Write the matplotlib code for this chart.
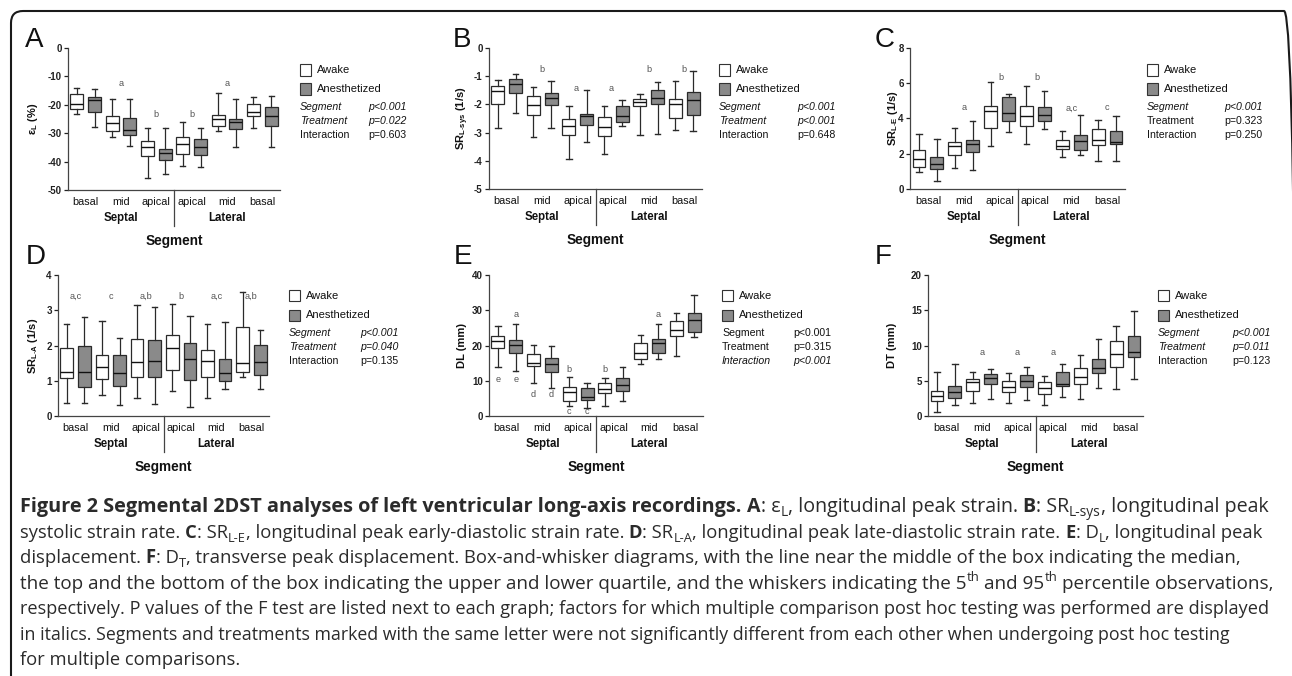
import matplotlib
matplotlib.use("Agg")
import matplotlib.pyplot as plt
from matplotlib.patches import Rectangle, FancyBboxPatch
from matplotlib.transforms import IdentityTransform
from matplotlib.font_manager import FontProperties

# ---------------- data ----------------
groups = ["basal", "mid", "apical", "apical", "mid", "basal"]
regions = ["Septal", "Lateral"]
treatments = ["Awake", "Anesthetized"]
# order: septal basal (Aw, An), septal mid, septal apical, lateral apical, lateral mid, lateral basal

A_lo = [-23.3, -27.9, -31.2, -34.4, -45.9, -44.4, -41.5, -42.0, -29.4, -34.7, -28.0, -34.7]
A_q1 = [-21.4, -22.6, -29.4, -30.6, -38.2, -39.6, -37.3, -37.6, -27.4, -28.5, -23.8, -27.6]
A_med = [-19.8, -18.2, -26.5, -28.8, -34.7, -37.1, -33.8, -34.9, -24.9, -25.9, -22.4, -23.9]
A_q3 = [-16.2, -17.1, -23.8, -24.8, -32.9, -35.5, -31.4, -32.1, -23.6, -25.1, -19.8, -20.8]
A_hi = [-14.1, -14.5, -17.9, -17.9, -28.0, -28.0, -26.1, -28.0, -15.9, -17.9, -17.4, -16.8]

B_lo = [-2.84, -2.30, -3.17, -2.83, -3.94, -3.35, -3.76, -2.75, -3.07, -3.05, -2.92, -2.93]
B_q1 = [-1.99, -1.60, -2.36, -2.01, -3.07, -2.72, -3.11, -2.64, -2.04, -1.97, -2.48, -2.36]
B_med = [-1.51, -1.28, -2.03, -1.77, -2.78, -2.42, -2.80, -2.42, -1.93, -1.77, -1.99, -1.83]
B_q3 = [-1.34, -1.10, -1.71, -1.60, -2.52, -2.33, -2.45, -2.04, -1.80, -1.50, -1.81, -1.57]
B_hi = [-1.12, -0.91, -1.38, -1.18, -2.04, -1.48, -2.04, -1.83, -1.62, -1.22, -1.18, -0.83]

C_lo = [0.95, 0.43, 1.19, 1.06, 2.46, 3.22, 2.57, 3.41, 1.80, 1.95, 1.57, 1.61]
C_q1 = [1.23, 1.13, 1.95, 2.10, 3.46, 3.88, 3.60, 3.88, 2.29, 2.19, 2.51, 2.57]
C_med = [1.70, 1.42, 2.42, 2.55, 4.44, 4.31, 4.16, 4.22, 2.46, 2.70, 2.76, 2.65]
C_q3 = [2.20, 1.81, 2.65, 2.76, 4.69, 5.20, 4.73, 4.63, 2.80, 3.08, 3.40, 3.31]
C_hi = [3.13, 2.84, 3.46, 3.84, 6.05, 5.41, 5.86, 5.54, 3.27, 4.22, 3.89, 4.13]

D_lo = [0.38, 0.36, 0.60, 0.31, 0.50, 0.34, 0.72, 0.25, 0.50, 0.76, 1.12, 0.76]
D_q1 = [1.08, 0.81, 1.05, 0.86, 1.12, 1.12, 1.30, 1.02, 1.12, 0.99, 1.26, 1.16]
D_med = [1.26, 1.26, 1.40, 1.21, 1.54, 1.56, 1.94, 1.61, 1.56, 1.21, 1.49, 1.54]
D_q3 = [1.94, 1.99, 1.73, 1.73, 2.18, 2.16, 2.30, 2.06, 1.87, 1.62, 2.53, 2.01]
D_hi = [2.62, 2.80, 2.70, 2.22, 3.15, 3.08, 3.17, 2.84, 2.60, 2.68, 3.53, 2.44]

E_lo = [14.0, 12.9, 9.5, 8.0, 2.8, 2.4, 2.8, 4.3, 14.7, 16.2, 17.1, 22.5]
E_q1 = [19.2, 17.8, 14.2, 12.6, 4.3, 4.5, 6.4, 7.2, 16.1, 17.8, 22.7, 23.7]
E_med = [21.4, 20.2, 14.9, 14.8, 6.9, 5.3, 7.8, 8.8, 17.8, 20.8, 24.4, 27.2]
E_q3 = [22.7, 21.6, 17.6, 16.5, 8.1, 8.0, 9.3, 10.9, 20.6, 21.8, 27.0, 29.3]
E_hi = [25.6, 26.1, 20.1, 19.9, 11.2, 9.5, 10.9, 14.0, 22.9, 26.1, 29.1, 34.3]

F_lo = [0.6, 1.5, 1.9, 2.4, 1.8, 2.3, 1.6, 2.7, 2.4, 4.0, 3.8, 5.3]
F_q1 = [2.1, 2.6, 3.6, 4.5, 3.4, 4.1, 3.1, 4.3, 4.5, 6.1, 7.0, 8.4]
F_med = [2.9, 3.4, 4.8, 5.4, 4.1, 5.0, 4.0, 4.6, 5.5, 6.8, 8.8, 9.1]
F_q3 = [3.5, 4.3, 5.3, 5.9, 5.0, 5.8, 4.8, 6.3, 6.8, 8.1, 10.6, 11.3]
F_hi = [6.3, 7.4, 6.3, 6.7, 6.1, 6.9, 5.7, 7.4, 8.6, 10.9, 12.8, 14.9]

A_letters = [(2.5, -12.6, "a"), (4.5, -23.5, "b"), (6.5, -23.5, "b"), (8.5, -12.6, "a")]
B_letters = [(2.5, -0.77, "b"), (4.4, -1.42, "a"), (6.4, -1.42, "a"), (8.5, -0.77, "b"), (10.5, -0.77, "b")]
C_letters = [(2.5, 4.6, "a"), (4.6, 6.35, "b"), (6.6, 6.35, "b"), (8.5, 4.6, "a,c"), (10.5, 4.6, "c")]
D_letters = [(0.5, 3.39, "a,c"), (2.5, 3.39, "c"), (4.5, 3.39, "a,b"), (6.5, 3.39, "b"), (8.5, 3.39, "a,c"), (10.5, 3.39, "a,b")]
E_letters = [(1, 28.9, "a"), (9, 28.9, "a"), (0, 10.4, "e"), (1, 10.4, "e"), (2, 6.0, "d"), (3, 6.0, "d"),
             (4, 13.3, "b"), (6, 13.3, "b"), (4, 1.2, "c"), (5, 1.2, "c")]
F_letters = [(2.5, 9.0, "a"), (4.5, 9.0, "a"), (6.5, 9.0, "a")]

A_ylim, B_ylim, C_ylim, D_ylim, E_ylim, F_ylim = (-50, 0), (-5, 0), (0, 8), (0, 4), (0, 40), (0, 20)
A_ticks = [0, -10, -20, -30, -40, -50]
B_ticks = [0, -1, -2, -3, -4, -5]
C_ticks = [0, 2, 4, 6, 8]
D_ticks = [0, 1, 2, 3, 4]
E_ticks = [0, 10, 20, 30, 40]
F_ticks = [0, 5, 10, 15, 20]

A_ylabel = r"ε$_{\mathbf{L}}$ (%)"
B_ylabel = r"SR$_{\mathbf{L\text{-}sys}}$ (1/s)"
C_ylabel = r"SR$_{\mathbf{L\text{-}E}}$ (1/s)"
D_ylabel = r"SR$_{\mathbf{L\text{-}A}}$ (1/s)"
E_ylabel = "DL (mm)"
F_ylabel = "DT (mm)"

# (factor, p text, italic)
A_p = [("Segment", "p<0.001", True), ("Treatment", "p=0.022", True), ("Interaction", "p=0.603", False)]
B_p = [("Segment", "p<0.001", True), ("Treatment", "p<0.001", True), ("Interaction", "p=0.648", False)]
C_p = [("Segment", "p<0.001", True), ("Treatment", "p=0.323", False), ("Interaction", "p=0.250", False)]
D_p = [("Segment", "p<0.001", True), ("Treatment", "p=0.040", True), ("Interaction", "p=0.135", False)]
E_p = [("Segment", "p<0.001", False), ("Treatment", "p=0.315", False), ("Interaction", "p<0.001", True)]
F_p = [("Segment", "p<0.001", True), ("Treatment", "p=0.011", True), ("Interaction", "p=0.123", False)]

CAPTION = [
    [("Figure 2 Segmental 2DST analyses of left ventricular long-axis recordings.", "b"), (" ", "r"), ("A", "b"),
     (": ε", "r"), ("L", "sub"), (", longitudinal peak strain. ", "r"), ("B", "b"), (": SR", "r"), ("L-sys", "sub"),
     (", longitudinal peak", "r")],
    [("systolic strain rate. ", "r"), ("C", "b"), (": SR", "r"), ("L-E", "sub"),
     (", longitudinal peak early-diastolic strain rate. ", "r"), ("D", "b"), (": SR", "r"), ("L-A", "sub"),
     (", longitudinal peak late-diastolic strain rate. ", "r"), ("E", "b"), (": D", "r"), ("L", "sub"),
     (", longitudinal peak", "r")],
    [("displacement. ", "r"), ("F", "b"), (": D", "r"), ("T", "sub"),
     (", transverse peak displacement. Box-and-whisker diagrams, with the line near the middle of the box indicating the median,", "r")],
    [("the top and the bottom of the box indicating the upper and lower quartile, and the whiskers indicating the 5", "r"),
     ("th", "sup"), (" and 95", "r"), ("th", "sup"), (" percentile observations,", "r")],
    [("respectively. P values of the F test are listed next to each graph; factors for which multiple comparison post hoc testing was performed are displayed", "r")],
    [("in italics. Segments and treatments marked with the same letter were not significantly different from each other when undergoing post hoc testing", "r")],
    [("for multiple comparisons.", "r")],
]

# ---------------- layout ----------------
W, H = 1292, 676
plt.rcParams["font.family"] = ["Liberation Sans", "DejaVu Sans"]
plt.rcParams["mathtext.fontset"] = "custom"
plt.rcParams["mathtext.rm"] = "Liberation Sans"
plt.rcParams["mathtext.bf"] = "Liberation Sans:bold"
plt.rcParams["mathtext.it"] = "Liberation Sans:italic"

fig = plt.figure(figsize=(W / 100, H / 100), dpi=100)
fig.patch.set_facecolor("white")


def fx(x):
    return x / W


def fy(y):
    return 1 - y / H


PANELS = [
    ("A", dict(lo=A_lo, q1=A_q1, med=A_med, q3=A_q3, hi=A_hi), A_letters, A_ylim, A_ticks, A_ylabel, A_p,
     dict(ax=(68, 48, 280, 190), letter=(25, 47), ylx=33, sq=300, p2=368, y0=70)),
    ("B", dict(lo=B_lo, q1=B_q1, med=B_med, q3=B_q3, hi=B_hi), B_letters, B_ylim, B_ticks, B_ylabel, B_p,
     dict(ax=(489, 48, 702, 189), letter=(453, 47), ylx=463, sq=719, p2=797, y0=70)),
    ("C", dict(lo=C_lo, q1=C_q1, med=C_med, q3=C_q3, hi=C_hi), C_letters, C_ylim, C_ticks, C_ylabel, C_p,
     dict(ax=(910, 48, 1125, 189), letter=(875, 47), ylx=893, sq=1147, p2=1224, y0=70)),
    ("D", dict(lo=D_lo, q1=D_q1, med=D_med, q3=D_q3, hi=D_hi), D_letters, D_ylim, D_ticks, D_ylabel, D_p,
     dict(ax=(58, 275, 269, 416), letter=(26, 264), ylx=33, sq=289, p2=360, y0=296)),
    ("E", dict(lo=E_lo, q1=E_q1, med=E_med, q3=E_q3, hi=E_hi), E_letters, E_ylim, E_ticks, E_ylabel, E_p,
     dict(ax=(489, 275, 703, 416), letter=(454, 264), ylx=462, sq=722, p2=793, y0=296)),
    ("F", dict(lo=F_lo, q1=F_q1, med=F_med, q3=F_q3, hi=F_hi), F_letters, F_ylim, F_ticks, F_ylabel, F_p,
     dict(ax=(928, 275, 1143, 416), letter=(875, 264), ylx=892, sq=1158, p2=1232, y0=296)),
]

GREY = "#8a8a8a"
EDGE = "#2a2a2a"
PX2PT = 0.72

for key, d, letters, ylim, ticks, ylabel, ptab, L in PANELS:
    l, t, r, b = L["ax"]
    axh = b - t
    ax = fig.add_axes([fx(l), fy(b), (r - l) / W, (b - t) / H])
    stats = [dict(whislo=d["lo"][i], q1=d["q1"][i], med=d["med"][i], q3=d["q3"][i], whishi=d["hi"][i])
             for i in range(len(d["med"]))]
    bp = ax.bxp(stats, positions=list(range(len(stats))), widths=0.72, capwidths=0.3,
                patch_artist=True, showfliers=False,
                boxprops=dict(edgecolor=EDGE, linewidth=0.9),
                medianprops=dict(color="#111111", linewidth=1.0),
                whiskerprops=dict(color=EDGE, linewidth=0.9),
                capprops=dict(color=EDGE, linewidth=1.0))
    for i, box in enumerate(bp["boxes"]):
        box.set_facecolor("white" if i % 2 == 0 else GREY)
    ax.set_xlim(-0.5, 11.5)
    ax.set_ylim(*ylim)
    ax.set_yticks(ticks)
    ax.set_yticklabels([str(v) for v in ticks], fontsize=7, fontweight="bold")
    ax.tick_params(axis="y", direction="out", length=3, width=0.9, pad=1.5, colors="#222222")
    ax.set_xticks([])
    for s in ("top", "right"):
        ax.spines[s].set_visible(False)
    for s in ("left", "bottom"):
        ax.spines[s].set_linewidth(0.9)
        ax.spines[s].set_color("#444444")
    ax.patch.set_alpha(0)

    # x group labels
    for j, g in enumerate(groups):
        ax.annotate(g, xy=(2 * j + 0.5, 0), xycoords=("data", "axes fraction"),
                    xytext=(0, -12 * PX2PT), textcoords="offset points",
                    ha="center", va="center", fontsize=7.8, color="#111111")
    for j, reg in enumerate(regions):
        ax.annotate(reg, xy=(6 * j + 2.5, 0), xycoords=("data", "axes fraction"),
                    xytext=(0, -28 * PX2PT), textcoords="offset points",
                    ha="center", va="center", fontsize=8.3, fontweight="bold", color="#111111")
    ax.plot([5.5, 5.5], [0, -36 / axh], transform=ax.get_xaxis_transform(), clip_on=False,
            color="#444444", linewidth=0.9)
    ax.text(0.5, -51 / axh, "Segment", transform=ax.transAxes, ha="center", va="center",
            fontsize=9.8, fontweight="bold", color="#111111")

    for xp, yp, s in letters:
        ax.text(xp, yp, s, ha="center", va="center", fontsize=6.6, color="#555555")

    # y label
    fig.text(fx(L["ylx"]), fy((t + b) / 2), ylabel, rotation=90, ha="center", va="center",
             fontsize=8, fontweight="bold", color="#111111")
    # panel letter
    fig.text(fx(L["letter"][0]), fy(L["letter"][1]), key, ha="left", va="baseline", fontsize=20,
             color="#111111")

    # legend
    y0 = L["y0"]
    for k, (lab, fc) in enumerate(zip(treatments, ["white", GREY])):
        yy = y0 + 19 * k
        fig.add_artist(Rectangle((fx(L["sq"]), fy(yy + 5.5)), 11 / W, 11 / H, transform=fig.transFigure,
                                 facecolor=fc, edgecolor="#333333", linewidth=0.8))
        fig.text(fx(L["sq"] + 17), fy(yy), lab, ha="left", va="center", fontsize=8, color="#111111")
    for k, (fac, pv, it) in enumerate(ptab):
        yy = y0 + 37 + 14 * k
        style = "italic" if it else "normal"
        fig.text(fx(L["sq"]), fy(yy), fac, ha="left", va="center", fontsize=7.6, style=style, color="#111111")
        fig.text(fx(L["p2"]), fy(yy), pv, ha="left", va="center", fontsize=7.6, style=style, color="#111111")

# ---------------- border ----------------
fig.add_artist(FancyBboxPatch((11, -40), 1285, H - 11 + 40, boxstyle="round,pad=0,rounding_size=12",
                              transform=IdentityTransform(), facecolor="none", edgecolor="#1a1a1a",
                              linewidth=1.5))

# ---------------- caption ----------------
renderer = fig.canvas.get_renderer()
CAP_FONT = "Open Sans"


def fprops(style, size, bsize=None):
    weight = "bold" if style == "b" else "normal"
    if style == "b" and bsize is not None:
        size = bsize
    fs = size * 0.7 if style in ("sub", "sup") else size
    return FontProperties(family=[CAP_FONT, "DejaVu Sans"], weight=weight, size=fs)


def adv(s, fp):
    if not s:
        return 0.0
    w1 = renderer.get_text_width_height_descent("|" + s + "|", fp, ismath=False)[0]
    w0 = renderer.get_text_width_height_descent("||", fp, ismath=False)[0]
    return w1 - w0


def line_width(runs, size):
    return sum(adv(txt, fprops(st, size)) for txt, st in runs)


def draw_line(runs, x, y, size, bsize=None):
    em = size * 100 / 72
    for txt, st in runs:
        fp = fprops(st, size, bsize)
        dy = 0.0
        if st == "sub":
            dy = 0.22 * em
        elif st == "sup":
            dy = -0.42 * em
        core = txt.strip(" ")
        lead = len(txt) - len(txt.lstrip(" "))
        if lead:
            x += adv(" " * lead, fp)
        if core:
            fig.text(fx(x), fy(y + dy), core, fontproperties=fp, ha="left", va="baseline", color="#2b2b2b")
            x += adv(core, fp)
        trail = len(txt) - len(txt.rstrip(" "))
        if trail and core:
            x += adv(" " * trail, fp)
    return x


X0 = 20
base = 12.0
line_ends = [1268, 1253, 1237, 1265, 1268, 1225]
title_end = 742
baselines = [512, 538, 563, 589, 614, 640, 665]

# title (bold) run of line 1 fitted separately
title_run = CAPTION[0][0]
bsize = base * (title_end - X0) / adv(title_run[0], fprops("b", base))
sizes = []
rest_w = line_width(CAPTION[0][1:], base)
sizes.append(base * (line_ends[0] - title_end) / rest_w)
for i in range(1, 6):
    sizes.append(base * (line_ends[i] - X0) / line_width(CAPTION[i], base))
sizes.append(sorted(sizes[1:])[2])

# line 1
xx = draw_line([title_run], X0, baselines[0], sizes[0], bsize)
draw_line(CAPTION[0][1:], title_end, baselines[0], sizes[0], sizes[0])
for i in range(1, 7):
    draw_line(CAPTION[i], X0, baselines[i], sizes[i], sizes[i])

fig.savefig("out.png", dpi=100, facecolor="white")
